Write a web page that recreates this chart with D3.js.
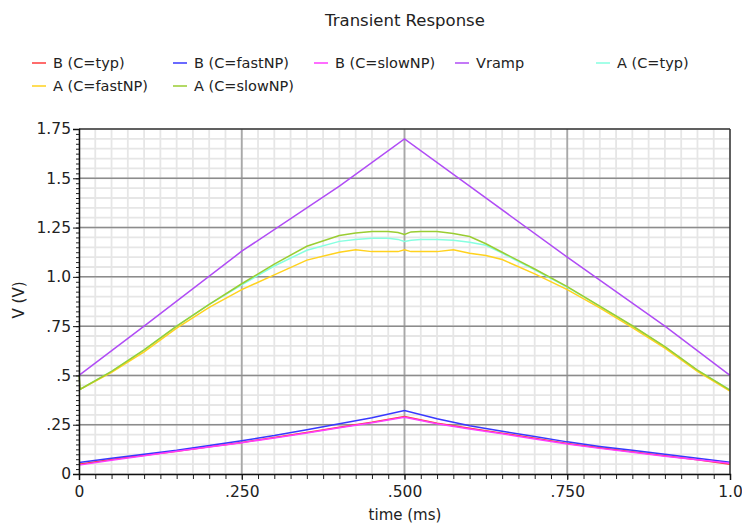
<!DOCTYPE html>
<html><head><meta charset="utf-8">
<script src="https://cdn.jsdelivr.net/npm/d3@7"></script>
<style>
body{margin:0;background:#fff}
svg{display:block}
text{font-family:"DejaVu Sans",sans-serif;fill:#222}
</style>
</head><body>
<svg id="chart" width="742" height="523"></svg>
<script>
// ---------- data ----------
const title = "Transient Response";
const xLabel = "time (ms)";
const yLabel = "V (V)";
const xTicks = [0, 0.25, 0.5, 0.75, 1.0];
const xTickLabels = ["0", ".250", ".500", ".750", "1.0"];
const yTicks = [0, 0.25, 0.5, 0.75, 1.0, 1.25, 1.5, 1.75];
const yTickLabels = ["0", ".25", ".5", ".75", "1.0", "1.25", "1.5", "1.75"];

const seriesNames = ["B (C=typ)", "B (C=fastNP)", "B (C=slowNP)", "Vramp", "A (C=typ)", "A (C=fastNP)", "A (C=slowNP)"];
const seriesColors = ["#ff3b3b", "#3838ff", "#ff3cff", "#b04cf5", "#86ffe0", "#ffd21e", "#9acd32"];

const timeB = [0, 0.05, 0.1, 0.15, 0.2, 0.25, 0.3, 0.35, 0.4, 0.45, 0.5, 0.55, 0.6, 0.65, 0.7, 0.75, 0.8, 0.85, 0.9, 0.95, 1.0];
const bTyp    = [0.050, 0.073, 0.095, 0.115, 0.138, 0.160, 0.185, 0.210, 0.237, 0.262, 0.292, 0.258, 0.232, 0.207, 0.182, 0.155, 0.133, 0.113, 0.093, 0.072, 0.050];
const bFastNP = [0.058, 0.080, 0.100, 0.120, 0.145, 0.169, 0.195, 0.225, 0.255, 0.285, 0.322, 0.280, 0.245, 0.217, 0.190, 0.163, 0.140, 0.120, 0.100, 0.080, 0.060];
const bSlowNP = [0.045, 0.070, 0.093, 0.115, 0.137, 0.159, 0.183, 0.208, 0.235, 0.260, 0.288, 0.255, 0.228, 0.204, 0.178, 0.152, 0.130, 0.110, 0.090, 0.072, 0.055];

const timeRamp = [0, 0.1, 0.25, 0.4, 0.5, 0.6, 0.75, 0.9, 1.0];
const vRamp    = [0.50, 0.75, 1.13, 1.46, 1.70, 1.46, 1.10, 0.75, 0.50];

const timeA    = [0, 0.002, 0.05, 0.1, 0.15, 0.2, 0.25, 0.3, 0.35, 0.4, 0.425, 0.45, 0.475, 0.49, 0.5, 0.51, 0.525, 0.55, 0.575, 0.6, 0.625, 0.65, 0.7, 0.75, 0.8, 0.85, 0.9, 0.95, 1.0];
const aTyp     = [0.43, 0.43, 0.52, 0.63, 0.75, 0.86, 0.96, 1.055, 1.135, 1.180, 1.190, 1.196, 1.196, 1.190, 1.180, 1.186, 1.190, 1.190, 1.186, 1.175, 1.160, 1.120, 1.035, 0.948, 0.850, 0.750, 0.645, 0.525, 0.426];
const aFastNP  = [0.43, 0.43, 0.515, 0.62, 0.74, 0.845, 0.935, 1.010, 1.085, 1.125, 1.137, 1.128, 1.128, 1.128, 1.137, 1.128, 1.128, 1.128, 1.137, 1.120, 1.108, 1.088, 1.015, 0.935, 0.843, 0.743, 0.638, 0.520, 0.420];
const aSlowNP  = [0.50, 0.43, 0.52, 0.63, 0.75, 0.86, 0.965, 1.065, 1.155, 1.210, 1.222, 1.230, 1.230, 1.225, 1.215, 1.228, 1.230, 1.230, 1.220, 1.205, 1.168, 1.125, 1.040, 0.950, 0.852, 0.752, 0.646, 0.527, 0.426];

const seriesData = [
  [timeB, bTyp], [timeB, bFastNP], [timeB, bSlowNP], [timeRamp, vRamp],
  [timeA, aTyp], [timeA, aFastNP], [timeA, aSlowNP]
];

// ---------- layout ----------
const svg = d3.select("#chart");
const L = 79, R = 730, T = 129, B = 474;
const x = d3.scaleLinear().domain([0, 1.0]).range([L, R]);
const y = d3.scaleLinear().domain([0, 1.75]).range([B, T]);

// title
svg.append("text").attr("x", 405).attr("y", 26).attr("text-anchor", "middle")
  .style("font-size", "16.5px").text(title);

// legend
const leg = svg.append("g");
seriesNames.forEach((n, i) => {
  const col = i % 5, row = Math.floor(i / 5);
  const lx = 32 + col * 141, ly = 63 + row * 23;
  leg.append("line").attr("x1", lx).attr("x2", lx + 14).attr("y1", ly).attr("y2", ly)
    .attr("stroke", seriesColors[i]).attr("stroke-width", 1.5);
  leg.append("text").attr("x", lx + 21).attr("y", ly + 5).style("font-size", "14.5px").text(n);
});

// grid
const grid = svg.append("g");
grid.append("rect").attr("x", L).attr("y", T).attr("width", R - L).attr("height", B - T).attr("fill", "#fff");
const minorX = d3.range(0, 1.0001, 0.025);
const minorY = d3.range(0, 1.7501, 0.05);
grid.selectAll(".mx").data(minorX).join("line")
  .attr("x1", d => x(d)).attr("x2", d => x(d)).attr("y1", T).attr("y2", B)
  .attr("stroke", "#e6e6e6").attr("stroke-width", 1.8);
grid.selectAll(".my").data(minorY).join("line")
  .attr("y1", d => y(d)).attr("y2", d => y(d)).attr("x1", L).attr("x2", R)
  .attr("stroke", "#e6e6e6").attr("stroke-width", 1.8);
grid.selectAll(".Mx").data(xTicks.slice(1, -1)).join("line")
  .attr("x1", d => x(d)).attr("x2", d => x(d)).attr("y1", T).attr("y2", B)
  .attr("stroke", "#a8a8a8").attr("stroke-width", 1.8);
grid.selectAll(".My").data(yTicks.slice(1, -1)).join("line")
  .attr("y1", d => y(d)).attr("y2", d => y(d)).attr("x1", L).attr("x2", R)
  .attr("stroke", "#8c8c8c").attr("stroke-width", 1.5);

// series
const lineGen = d3.line();
seriesData.forEach(([ts, vs], i) => {
  svg.append("path")
    .attr("d", lineGen(ts.map((t, k) => [x(t), y(vs[k])])))
    .attr("fill", "none").attr("stroke", seriesColors[i]).attr("stroke-width", 1.5);
});

// frame
svg.append("line").attr("x1", L).attr("x2", R).attr("y1", T).attr("y2", T).attr("stroke", "#333").attr("stroke-width", 1.5);
svg.append("line").attr("x1", R).attr("x2", R).attr("y1", T).attr("y2", B).attr("stroke", "#333").attr("stroke-width", 1.5);

// axes
const minorYt = d3.range(0, 1.7501, 0.025);
const minorXt = d3.range(0, 1.0001, 0.025);
svg.append("g").attr("transform", `translate(${L},0)`)
  .call(d3.axisLeft(y).tickValues(minorYt).tickSize(3).tickFormat(""))
  .call(g => g.select(".domain").remove())
  .selectAll("line").attr("stroke", "#222");
svg.append("g").attr("transform", `translate(0,${B})`)
  .call(d3.axisBottom(x).tickValues(minorXt).tickSize(5).tickFormat(""))
  .call(g => g.select(".domain").remove())
  .selectAll("line").attr("stroke", "#222");

const yAxis = svg.append("g").attr("transform", `translate(${L},0)`)
  .call(d3.axisLeft(y).tickValues(yTicks).tickSize(6).tickPadding(2)
    .tickFormat((d, i) => yTickLabels[i]));
yAxis.select(".domain").attr("stroke", "#111").attr("stroke-width", 1.5);
yAxis.selectAll("text").style("font-size", "15.5px").style("font-family", "DejaVu Sans").attr("fill", "#222");
yAxis.selectAll("line").attr("stroke", "#111");

const xAxis = svg.append("g").attr("transform", `translate(0,${B})`)
  .call(d3.axisBottom(x).tickValues(xTicks).tickSize(6).tickPadding(6)
    .tickFormat((d, i) => xTickLabels[i]));
xAxis.select(".domain").attr("stroke", "#111").attr("stroke-width", 1.5);
xAxis.selectAll("text").style("font-size", "15.5px").style("font-family", "DejaVu Sans").attr("fill", "#222");
xAxis.selectAll("line").attr("stroke", "#111");

// axis titles
svg.append("text").attr("x", 405).attr("y", 520).attr("text-anchor", "middle")
  .style("font-size", "15px").text(xLabel);
svg.append("text").attr("transform", "translate(24,300) rotate(-90)").attr("text-anchor", "middle")
  .style("font-size", "15px").text(yLabel);
</script>
</body></html>
